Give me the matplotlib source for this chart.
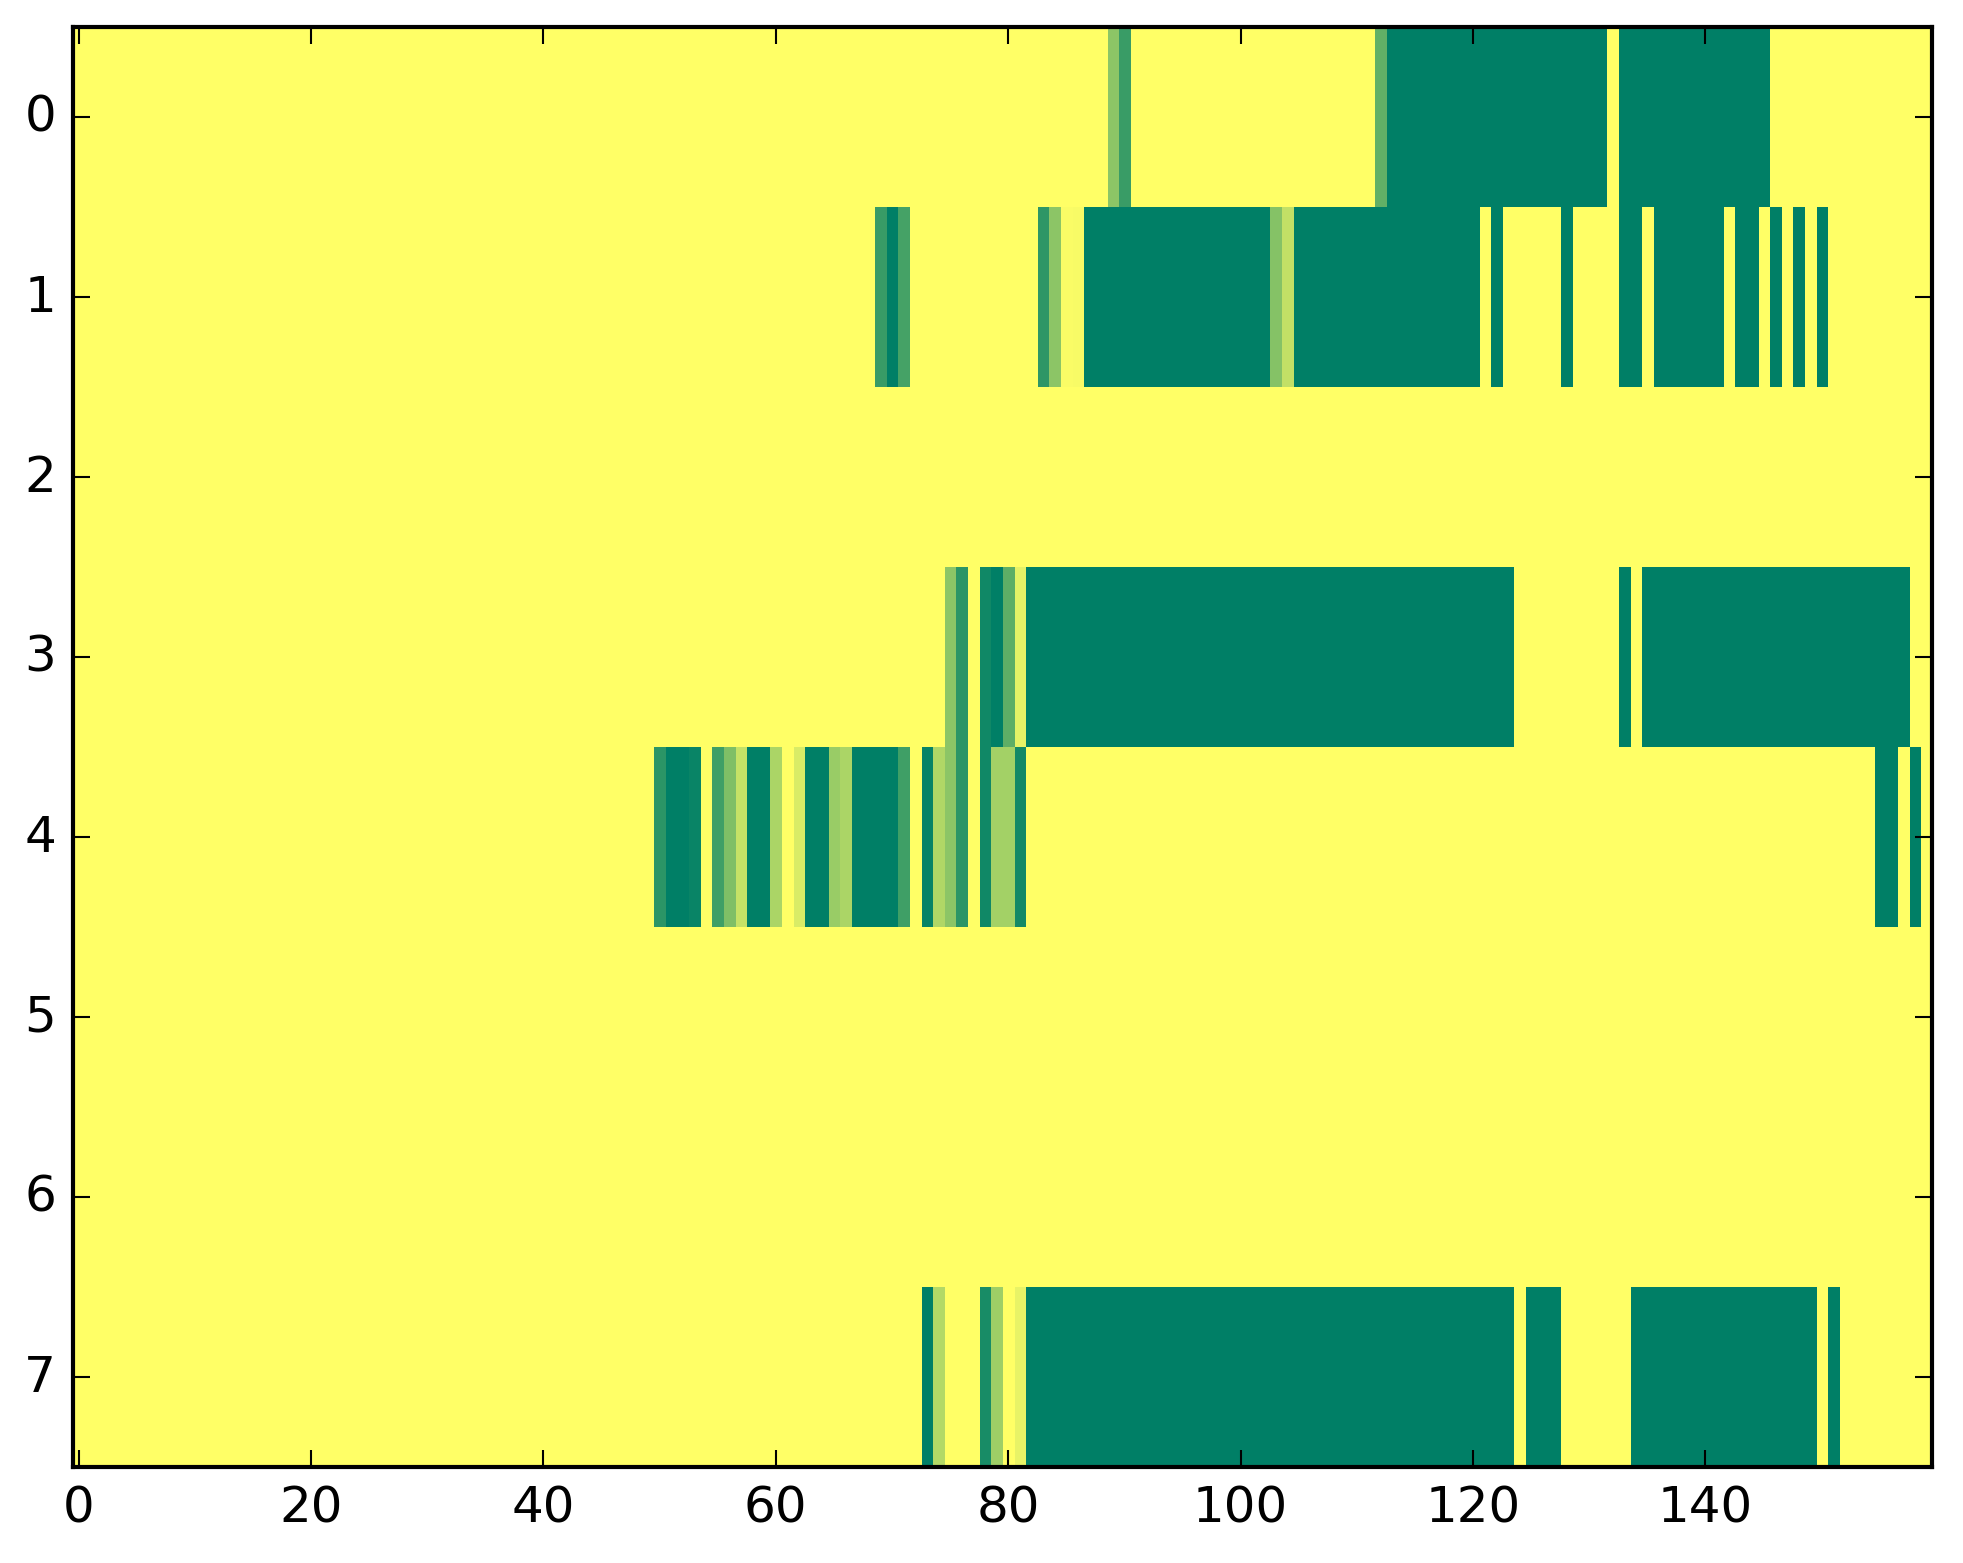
import numpy as np
import matplotlib
matplotlib.use('Agg')
import matplotlib.pyplot as plt

'''
Heatmap of 8 rows x 160 columns, values between 0 (yellow) and 1 (green).
Each row is given as runs of (first col, last col, value); everything else is 0.
'''

nCols = 160
nRows = 8

row0 = [(89, 89, 0.45), (90, 90, 0.77), (112, 112, 0.62), (113, 131, 1.0),
        (133, 145, 1.0)]
row1 = [(69, 69, 0.78), (70, 70, 1.0), (71, 71, 0.73), (83, 83, 0.82),
        (84, 84, 0.45), (85, 85, 0.02), (86, 86, 0.03), (87, 102, 1.0),
        (103, 103, 0.48), (104, 104, 0.24), (105, 120, 1.0), (122, 122, 1.0),
        (128, 128, 1.0), (133, 134, 1.0), (136, 141, 1.0), (143, 144, 1.0),
        (146, 146, 1.0), (148, 148, 1.0), (150, 150, 1.0)]
row2 = []
row3 = [(75, 75, 0.45), (76, 76, 0.83), (78, 78, 0.93), (79, 79, 1.0),
        (80, 80, 0.63), (81, 81, 0.1), (82, 123, 1.0), (133, 133, 1.0),
        (135, 157, 1.0)]
row4 = [(50, 50, 0.83), (51, 52, 1.0), (53, 53, 0.96), (55, 55, 0.75),
        (56, 56, 0.5), (57, 57, 0.23), (58, 59, 1.0), (60, 60, 0.33),
        (62, 62, 0.15), (63, 64, 1.0), (65, 65, 0.4), (66, 66, 0.33),
        (67, 70, 1.0), (71, 71, 0.75), (73, 73, 0.97), (74, 74, 0.31),
        (75, 75, 0.45), (76, 76, 0.83), (78, 78, 0.93), (79, 80, 0.36),
        (81, 81, 0.92), (155, 156, 1.0), (158, 158, 1.0)]
row5 = []
row6 = []
row7 = [(73, 73, 1.0), (74, 74, 0.3), (78, 78, 0.9), (79, 79, 0.38),
        (81, 81, 0.09), (82, 123, 1.0), (125, 127, 1.0), (134, 149, 1.0),
        (151, 151, 1.0)]

rows = [row0, row1, row2, row3, row4, row5, row6, row7]

xTicks = [0, 20, 40, 60, 80, 100, 120, 140]
yTicks = [0, 1, 2, 3, 4, 5, 6, 7]


def buildMatrix(rowRuns):
    '''turn the run lists into a full matrix'''
    mat = np.zeros((nRows, nCols))
    for r, runs in enumerate(rowRuns):
        for start, stop, val in runs:
            mat[r, start:stop + 1] = val
    return mat


def main():
    plt.style.use('classic')
    data = buildMatrix(rows)

    fig = plt.figure(figsize=(1963 / 300, 1564 / 300), dpi=300)
    fig.patch.set_facecolor('white')
    ax = fig.add_axes([72.8 / 1963, 96.3 / 1564,
                       (1932 - 72.8) / 1963, 1439.7 / 1564])

    ax.imshow(data, cmap='summer_r', vmin=0, vmax=1, aspect='auto',
              interpolation='nearest')
    ax.set_xticks(xTicks)
    ax.set_yticks(yTicks)
    ax.set_xlim(-0.5, nCols - 0.5)
    ax.set_ylim(nRows - 0.5, -0.5)
    ax.tick_params(labelsize=12)

    fig.savefig('out.png', dpi=300, facecolor='white')


if __name__ == "__main__":
    main()
